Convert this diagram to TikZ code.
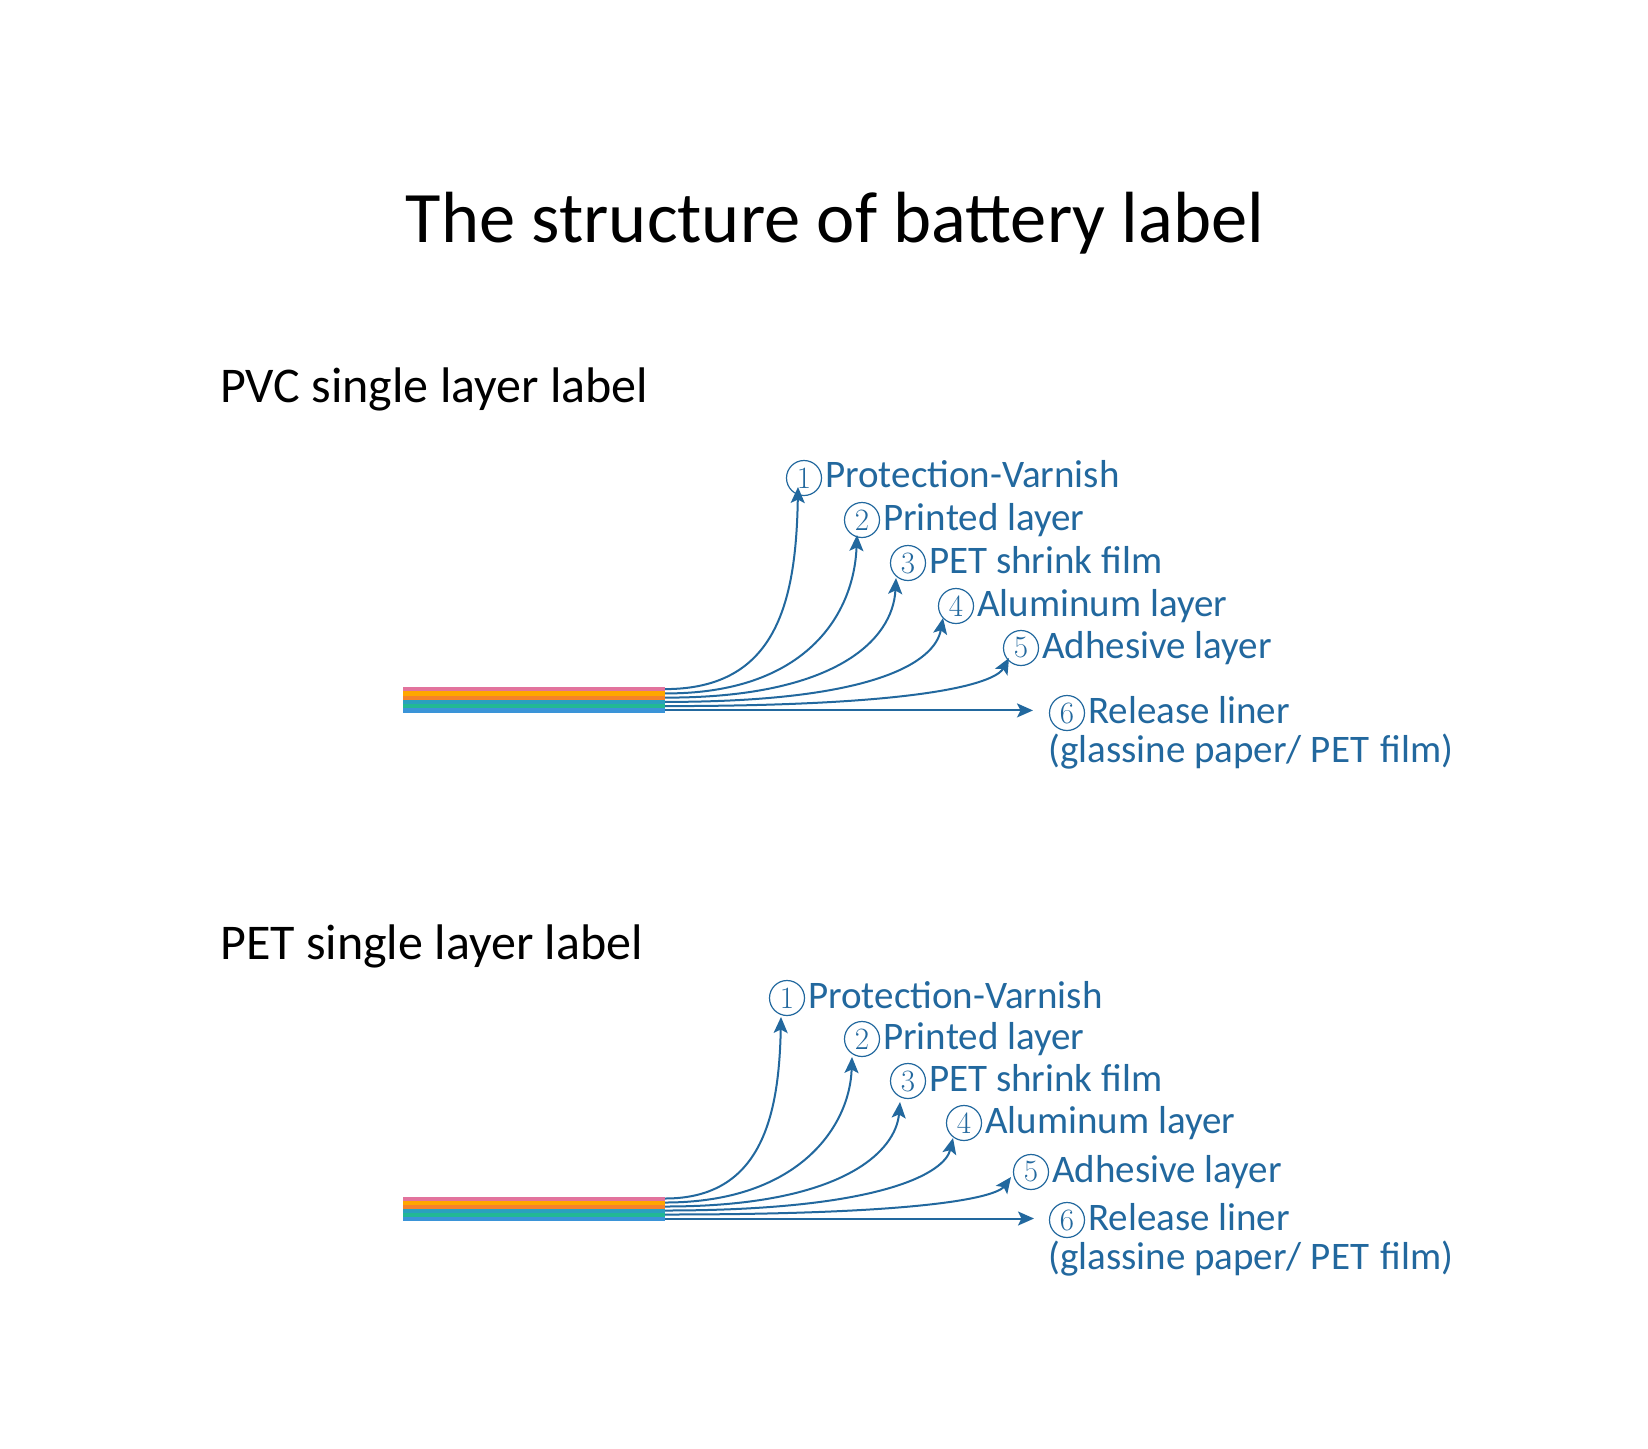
\documentclass[tikz,border=0pt]{standalone}
\usepackage{fontspec}
\setsansfont{Carlito}
\usetikzlibrary{arrows.meta,calc}
\definecolor{lblue}{HTML}{22689E}
\definecolor{lpink}{HTML}{E2739D}
\definecolor{lamber}{HTML}{FFA600}
\definecolor{lorange}{HTML}{F5822A}
\definecolor{lteal}{HTML}{2AA0BE}
\definecolor{lgreen}{HTML}{22B894}
\definecolor{lbluel}{HTML}{3A94D8}
\tikzset{
  num/.style={circle,draw=lblue,line width=1.2pt,minimum size=35pt,inner sep=0pt,text=lblue,font=\fontsize{31}{31}\selectfont},
  lbl/.style={anchor=base west,inner sep=0pt,text=lblue,font=\sffamily\fontsize{39}{41}\selectfont},
  arr/.style={draw=lblue,line width=2pt,-{Stealth[length=16pt,width=14pt,inset=3.5pt]}},
  ttl/.style={anchor=base,inner sep=0pt,font=\sffamily\fontsize{72.5}{80}\selectfont},
  sub/.style={anchor=base west,inner sep=0pt,font=\sffamily\fontsize{50}{54}\selectfont},
}
\begin{document}
\begin{tikzpicture}[x=1pt,y=-1pt]
\useasboundingbox[fill=white] (0,0) rectangle (1648,1448);

\node[ttl] (title) at (835,242) {The structure of battery label};
\node[sub] (pvc) at (220,402) {PVC single layer label};
\node[sub] (pet) at (220,959) {PET single layer label};

% ---------- top stack ----------
\foreach \c [count=\i from 0] in {lpink,lamber,lorange,lteal,lgreen,lbluel}{
  \fill[\c] (403,{687+4.25*\i}) rectangle (665,{687+4.25*(\i+1)});
}
\coordinate (a1) at (665,689.1);
\coordinate (a2) at (665,693.4);
\coordinate (a3) at (665,697.6);
\coordinate (a4) at (665,701.9);
\coordinate (a5) at (665,706.1);
\coordinate (a6) at (665,710.4);

\node[num] (ca1) at (804,478) {1};
\node[num] (ca2) at (862,520) {2};
\node[num] (ca3) at (908,563) {3};
\node[num] (ca4) at (956,606) {4};
\node[num] (ca5) at (1021,648) {5};
\node[num] (ca6) at (1067,713) {6};
\node[lbl] (ta1) at ($(ca1.center)+(21,9)$) {Protection-Varnish};
\node[lbl] (ta2) at ($(ca2.center)+(21,10)$) {Printed layer};
\node[lbl] (ta3) at ($(ca3.center)+(21,10)$) {PET shrink film};
\node[lbl] (ta4) at ($(ca4.center)+(21,10)$) {Aluminum layer};
\node[lbl] (ta5) at ($(ca5.center)+(21,10)$) {Adhesive layer};
\node[lbl] (ta6) at ($(ca6.center)+(21,10)$) {Release liner};
\node[lbl] (tb6) at (1048,762) {(glassine paper/ PET\hspace{3pt} film)};

\coordinate (pa1) at (798,487);
\coordinate (pa2) at (857,535);
\coordinate (pa3) at (896,578);
\coordinate (pa4) at (943,618);
\coordinate (pa5) at (1009,658);
\coordinate (pa6) at (1033,710.4);
\draw[arr] (a1) .. controls (775,689) and (796,605) .. (pa1);
\draw[arr] (a2) .. controls (805,694) and (854,615) .. (pa2);
\draw[arr] (a3) .. controls (835,698) and (893,640) .. (pa3);
\draw[arr] (a4) .. controls (875,702) and (935,662) .. (pa4);
\draw[arr] (a5) .. controls (955,706) and (998,678) .. (pa5);
\draw[arr] (a6) -- (pa6);

% ---------- bottom stack ----------
\foreach \c [count=\i from 0] in {lpink,lamber,lorange,lteal,lgreen,lbluel}{
  \fill[\c] (403,{1196.5+4*\i}) rectangle (665,{1196.5+4*(\i+1)});
}
\coordinate (b1) at (665,1198.5);
\coordinate (b2) at (665,1202.5);
\coordinate (b3) at (665,1206.5);
\coordinate (b4) at (665,1210.5);
\coordinate (b5) at (665,1214.5);
\coordinate (b6) at (665,1218.5);

\node[num] (cb1) at (787,998) {1};
\node[num] (cb2) at (862,1039) {2};
\node[num] (cb3) at (908,1081) {3};
\node[num] (cb4) at (964,1123) {4};
\node[num] (cb5) at (1031,1172) {5};
\node[num] (cb6) at (1067,1220) {6};
\node[lbl] (tc1) at ($(cb1.center)+(21,10)$) {Protection-Varnish};
\node[lbl] (tc2) at ($(cb2.center)+(21,10)$) {Printed layer};
\node[lbl] (tc3) at ($(cb3.center)+(21,10)$) {PET shrink film};
\node[lbl] (tc4) at ($(cb4.center)+(21,10)$) {Aluminum layer};
\node[lbl] (tc5) at ($(cb5.center)+(21,10)$) {Adhesive layer};
\node[lbl] (tc6) at ($(cb6.center)+(21,10)$) {Release liner};
\node[lbl] (td6) at (1048,1269) {(glassine paper/ PET\hspace{3pt} film)};

\coordinate (pb1) at (781,1017);
\coordinate (pb2) at (852,1057);
\coordinate (pb3) at (900,1102);
\coordinate (pb4) at (953,1138);
\coordinate (pb5) at (1011,1177);
\coordinate (pb6) at (1034,1218.5);
\draw[arr] (b1) .. controls (762,1198.5) and (779,1115) .. (pb1);
\draw[arr] (b2) .. controls (800,1202.5) and (850,1125) .. (pb2);
\draw[arr] (b3) .. controls (845,1206.5) and (896,1150) .. (pb3);
\draw[arr] (b4) .. controls (885,1210.5) and (945,1172) .. (pb4);
\draw[arr] (b5) .. controls (965,1214.5) and (1000,1192) .. (pb5);
\draw[arr] (b6) -- (pb6);
\end{tikzpicture}
\end{document}
